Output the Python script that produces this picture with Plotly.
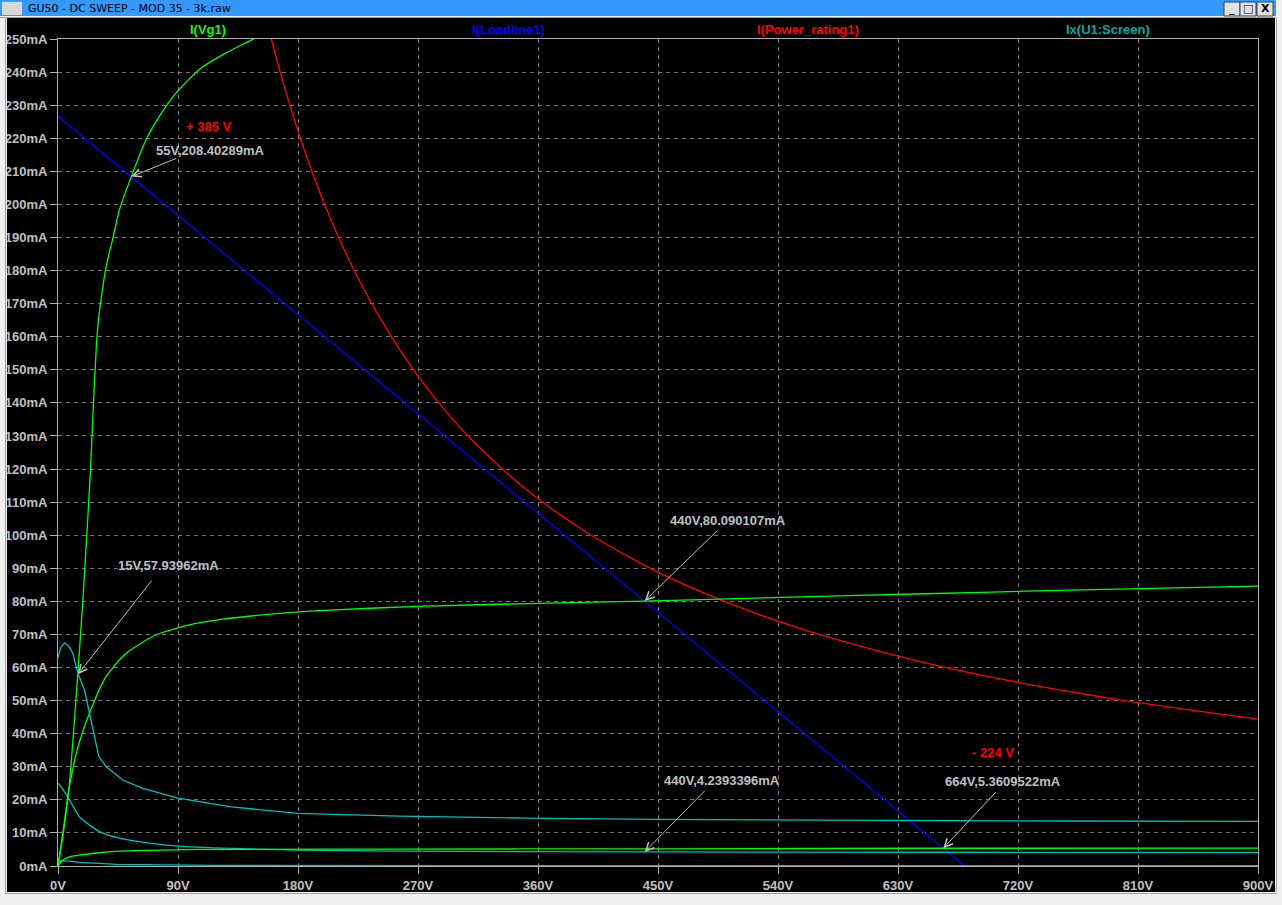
import plotly.graph_objects as go

# ---- data (V in volts, I in mA) ----
vg1_steep_v = [0, 4, 8.6, 14.9, 18.6, 21.6, 24.4, 26.6, 28.9, 30.6, 32.9, 34.9, 37.4, 41,
               46.1, 55, 66.1, 76.1, 88.6, 106, 126, 146, 160]
vg1_steep_ma = [0, 10, 25, 58.3, 80, 100, 120, 140, 158, 166, 173, 178.5, 183.6, 189.5,
                198.4, 208.4, 219.6, 226.7, 233.7, 240.8, 245.8, 249.9, 253]

vg1_mid_v = [0, 4, 8.1, 15, 23.6, 36.1, 51.1, 73.7, 98.6, 123.6, 161, 196, 270, 360, 440,
             550, 650, 750, 900]
vg1_mid_ma = [0, 11, 23, 36, 46.2, 57.3, 64.3, 69.9, 72.9, 74.6, 76.2, 77.2, 78.5, 79.4,
              80.09, 81.3, 82.3, 83.3, 84.6]

vg1_low_v = [0, 3, 6, 10, 16, 24, 31, 46, 69, 105, 150, 250, 440, 664, 900]
vg1_low_ma = [0, 1.6, 2.3, 2.9, 3.3, 3.7, 4.0, 4.5, 4.75, 5.0, 5.05, 5.1, 5.2, 5.36, 5.4]

screen_top_v = [0, 2, 4.9, 8, 11.1, 14.9, 19.9, 23.6, 27.4, 30.6, 36.2, 48.6, 63.6, 90,
                130, 180, 256, 350, 450, 600, 750, 900]
screen_top_ma = [63, 66, 67.4, 66.5, 64.3, 58.3, 53.2, 46.2, 39.1, 33.1, 30.0, 26.0, 23.5,
                 20.5, 17.9, 15.9, 15.1, 14.5, 14.1, 13.8, 13.6, 13.5]

screen_mid_v = [0, 1.9, 8.6, 16.1, 31.1, 46.1, 68.6, 90, 131, 181, 256, 440, 664, 900]
screen_mid_ma = [25, 24.2, 20, 14.9, 10.4, 8.4, 6.9, 6.0, 5.3, 4.8, 4.5, 4.24, 4.15, 4.1]

screen_low_v = [0, 2.4, 10, 16, 31, 44, 117, 300, 900]
screen_low_ma = [1.0, 1.6, 1.4, 1.1, 0.8, 0.5, 0.2, 0.1, 0.1]

loadline_v = [0, 680]
loadline_ma = [226.7, 0]

power_v = [150, 160, 170, 180, 190, 200, 215, 230, 250, 270, 290, 310, 340, 370, 400, 440,
           480, 520, 560, 600, 650, 700, 750, 800, 850, 900]
power_ma = [266.7, 250.0, 235.3, 222.2, 210.5, 200.0, 186.0, 173.9, 160.0, 148.1, 137.9,
            129.0, 117.6, 108.1, 100.0, 90.9, 83.3, 76.9, 71.4, 66.7, 61.5, 57.1, 53.3,
            50.0, 47.1, 44.4]

x_ticks = list(range(0, 901, 90))
y_ticks = list(range(0, 251, 10))

trace_names = ["I(Vg1)", "I(Loadline1)", "I(Power_rating1)", "Ix(U1:Screen)"]

# cursor readouts: (tip V, tip mA, tail V, tail mA, text V, text mA, label)
cursors = [
    (55, 208.4, 89.9, 214.1, 114.4, 216.4, "55V,208.40289mA"),
    (15, 57.94, 71.1, 86.7, 82.6, 90.7, "15V,57.93962mA"),
    (440, 80.09, 495.6, 101.8, 502.5, 104.5, "440V,80.090107mA"),
    (440, 4.24, 486.2, 23.2, 498.0, 25.9, "440V,4.2393396mA"),
    (664, 5.36, 704.4, 22.8, 708.4, 25.4, "664V,5.3609522mA"),
]
red_notes = [(112.9, 223.6, "+ 385 V"), (701.6, 34.2, "- 224 V")]

GREEN = "#00ff00"
BLUE = "#0000ff"
RED = "#ff0000"
CYAN = "#00bfbf"
GRAY = "#c0c0c0"
FONT = "Liberation Sans"

W, H = 1282, 905
L, R, T, B = 58, 24, 39, 39


def px(xp):
    return (xp - L) / (W - L - R)


def py(yp):
    return (H - B - yp) / (H - T - B)


fig = go.Figure()


def add_line(v, ma, color, smooth=False):
    line = dict(color=color, width=1.3)
    if smooth:
        line.update(shape="spline", smoothing=0.6)
    fig.add_trace(go.Scatter(x=v, y=ma, mode="lines", line=line,
                             hoverinfo="x+y", showlegend=False))


add_line(loadline_v, loadline_ma, BLUE)
add_line(power_v, power_ma, RED, smooth=True)
add_line(screen_top_v, screen_top_ma, CYAN)
add_line(screen_mid_v, screen_mid_ma, CYAN, smooth=True)
add_line(screen_low_v, screen_low_ma, CYAN)
add_line(vg1_steep_v, vg1_steep_ma, GREEN, smooth=True)
add_line(vg1_mid_v, vg1_mid_ma, GREEN, smooth=True)
add_line(vg1_low_v, vg1_low_ma, GREEN, smooth=True)

axis_common = dict(showgrid=True, gridcolor="#7a7a7a", griddash="4px,4px", gridwidth=1,
                   showline=True, linecolor="#b0b0b0", linewidth=1, mirror=True,
                   ticks="outside", ticklen=7, tickcolor="#b0b0b0", zeroline=False,
                   automargin=False,
                   tickfont=dict(family=FONT, size=13, color=GRAY, weight="bold"))

fig.update_xaxes(range=[0, 900], tickvals=x_ticks, ticktext=[f"{v}V" for v in x_ticks],
                 **axis_common)
fig.update_yaxes(range=[0, 250], tickvals=y_ticks, ticktext=[f"{v}mA" for v in y_ticks],
                 **axis_common)

annotations = []
# trace names across the top
for i, (name, col) in enumerate(zip(trace_names, [GREEN, BLUE, RED, "#00a8a8"])):
    annotations.append(dict(xref="paper", yref="paper", x=0.125 + 0.25 * i, y=1, yshift=10,
                            text=name, showarrow=False, xanchor="center", yanchor="middle",
                            font=dict(family=FONT, size=13, color=col, weight="bold")))

for tv, tma, av, ama, lv, lma, label in cursors:
    annotations.append(dict(x=tv, y=tma, ax=av, ay=ama, axref="x", ayref="y", xref="x",
                            yref="y", text="", showarrow=True, arrowhead=5, arrowsize=1.6,
                            arrowwidth=1, arrowcolor=GRAY))
    annotations.append(dict(x=lv, y=lma, xref="x", yref="y", text=label, showarrow=False,
                            xanchor="center", yanchor="middle",
                            font=dict(family=FONT, size=13, color=GRAY, weight="bold")))

for lv, lma, label in red_notes:
    annotations.append(dict(x=lv, y=lma, xref="x", yref="y", text=label, showarrow=False,
                            xanchor="center", yanchor="middle",
                            font=dict(family=FONT, size=13, color=RED, weight="bold")))

# window title
annotations.append(dict(xref="paper", yref="paper", x=px(26), y=py(8.5),
                        text="GU50 - DC SWEEP - MOD 35 - 3k.raw",
                        showarrow=False, xanchor="left", yanchor="middle",
                        font=dict(family="DejaVu Sans", size=11, color="#000000")))
# window buttons glyphs
for cx, glyph in [(1232, "_"), (1248, "□"), (1265, "X")]:
    annotations.append(dict(xref="paper", yref="paper", x=px(cx), y=py(9), text=glyph,
                            showarrow=False, xanchor="center", yanchor="middle",
                            font=dict(family="DejaVu Sans", size=11, color="#000000",
                                      weight="bold")))


def rect(x0, y0, x1, y1, fill, line=None):
    return dict(type="rect", xref="paper", yref="paper", x0=px(x0), x1=px(x1), y0=py(y1),
                y1=py(y0), fillcolor=fill, line=dict(width=1 if line else 0,
                                                     color=line or fill), layer="above")


shapes = [
    rect(0, 0, W, 18, "#f0f0f0"),
    rect(0, 0, 1276, 16, "#3399ff"),
    rect(2, 2, 22, 15, "#d8d8d8"),
    rect(0, 18, 7, H, "#f0f0f0"),
    rect(5, 18, 6, 894, "#a0a0a0"),
    rect(1275, 18, W, H, "#f0f0f0"),
    rect(1276, 18, 1277, 894, "#a0a0a0"),
    rect(0, 892, W, H, "#f0f0f0"),
    rect(5, 893, 1277, 894, "#a0a0a0"),
    rect(0, 17, 1276, 18, "#a0a0a0"),
    rect(1224, 2, 1240, 16, "#e0e0e0", "#404040"),
    rect(1240, 2, 1256, 16, "#e0e0e0", "#404040"),
    rect(1257, 2, 1273, 16, "#e0e0e0", "#404040"),
]

fig.update_layout(width=W, height=H, margin=dict(l=L, r=R, t=T, b=B),
                  paper_bgcolor="#000000", plot_bgcolor="#000000",
                  annotations=annotations, shapes=shapes, showlegend=False,
                  hovermode="closest")

fig.write_html("out.html", config={"displayModeBar": False},
               post_script="document.body.style.margin='0';")
